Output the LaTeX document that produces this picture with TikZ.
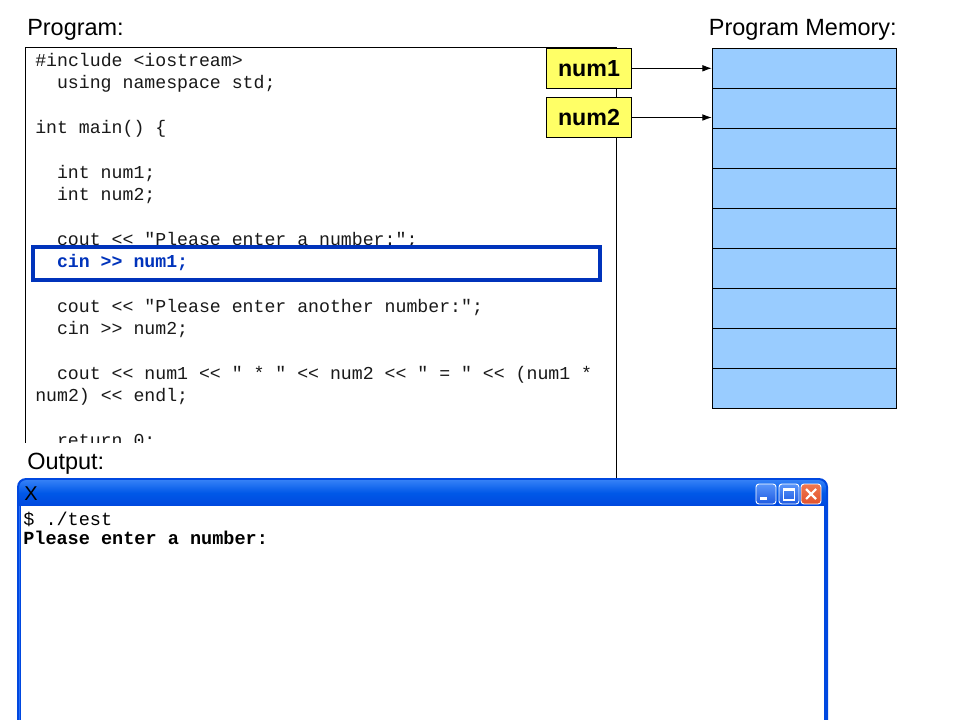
\documentclass[tikz,border=0pt]{standalone}
\usepackage{fontspec}
\setmainfont{Liberation Sans}
\setmonofont{Liberation Mono}
\usetikzlibrary{arrows.meta}
\definecolor{hlblue}{RGB}{0,51,187}
\definecolor{memblue}{RGB}{153,204,255}
\definecolor{numyellow}{RGB}{255,255,102}
\definecolor{xpborder}{RGB}{0,72,224}
\definecolor{xpinner}{RGB}{40,110,245}
\definecolor{xptop}{RGB}{52,128,246}
\definecolor{xpmid}{RGB}{0,88,232}
\definecolor{xpbot}{RGB}{0,72,222}
\definecolor{btntop}{RGB}{90,150,250}
\definecolor{btnbot}{RGB}{30,90,225}
\definecolor{closetop}{RGB}{240,120,80}
\definecolor{xpclose}{RGB}{226,82,44}
\definecolor{codeink}{RGB}{25,25,25}
\tikzset{
  code/.style={font=\ttfamily\fontsize{13.65}{16}\selectfont, text=codeink, inner sep=0pt, anchor=base west},
  hlcode/.style={code, font=\ttfamily\bfseries\fontsize{13.65}{16}\selectfont, text=hlblue},
  term/.style={font=\ttfamily\fontsize{13.9}{16}\selectfont, inner sep=0pt, anchor=base west},
  termb/.style={term, font=\ttfamily\bfseries\fontsize{13.9}{16}\selectfont},
  lbl/.style={font=\fontsize{17.6}{20}\selectfont, inner sep=0pt},
  numbox/.style={draw=black, line width=0.6pt, fill=numyellow, minimum width=63.75pt, minimum height=30pt, inner sep=0pt, font=\bfseries\fontsize{17.4}{20}\selectfont},
  memcell/.style={draw=black, line width=0.9pt, fill=memblue, minimum width=138.3pt, minimum height=30pt, inner sep=0pt},
  ptr/.style={line width=0.6pt, -{Latex[length=7pt,width=5pt]}},
  xpbtn/.style={draw=white, line width=0.7pt, rounded corners=2.2pt}
}
\begin{document}
\begin{tikzpicture}[x=0.75pt,y=-0.75pt]
\useasboundingbox (0,0) rectangle (960,720);
\fill[white] (0,0) rectangle (960,720);
\frenchspacing
% program box
\node[draw=black, line width=0.75pt, anchor=north west, minimum width=443.25pt, minimum height=323.25pt, inner sep=0pt] (prog) at (25,47) {};
% code lines
\node[code] (l1) at (35,66.5) {\#include <iostream>};
\node[code] (l2) at (56.8,88.85) {using namespace std;};
\node[code] (l4) at (35,133.55) {int main() \{};
\node[code] (l6) at (56.8,178.25) {int num1;};
\node[code] (l7) at (56.8,200.6) {int num2;};
\node[code] (l9) at (56.8,245.3) {cout << "Please enter a number:";};
\node[hlcode] (l10) at (56.8,267.65) {cin >> num1;};
\node[code] (l12) at (56.8,312.35) {cout << "Please enter another number:";};
\node[code] (l13) at (56.8,334.7) {cin >> num2;};
\node[code] (l15) at (56.8,379.4) {cout << num1 << " * " << num2 << " = " << (num1 *};
\node[code] (l16) at (35,401.75) {num2) << endl;};
\node[code] (l18) at (56.8,446.45) {return 0;};
% highlight box
\node[draw=hlblue, line width=3pt, minimum width=425.25pt, minimum height=24.75pt, inner sep=0pt] (hl) at (316.5,263.5) {};
% white cover behind Output label
\fill[white] (18,443) rectangle (612,478);
% labels
\node[lbl, anchor=base west] (plabel) at (27,36) {Program:};
\node[lbl, anchor=base east] (mlabel) at (897,36) {Program Memory:};
\node[lbl, anchor=base west] (olabel) at (27,469) {Output:};
% memory cells
\foreach \i in {0,...,8} {
  \node[memcell] (m\i) at (804.5,{68.3+40*\i}) {};
}
% variable boxes
\node[numbox] (n1) at (589,68.3) {num1};
\node[numbox] (n2) at (589,117.5) {num2};
\draw[ptr] (n1.east) -- (n1.east -| m0.west);
\draw[ptr] (n2.east) -- (n2.east -| m1.west);
% output window
\fill[xpborder] (17,720) -- (17,487) arc[start angle=180, end angle=270, radius=9] -- (819,478) arc[start angle=270, end angle=360, radius=9] -- (828,720) -- cycle;
\shade[top color=xptop, bottom color=xpbot, middle color=xpmid]
  (19,506) -- (19,487.5) arc[start angle=180, end angle=270, radius=7.5] -- (818.5,480) arc[start angle=270, end angle=360, radius=7.5] -- (826,506) -- cycle;
\fill[white] (21,506) rectangle (824,720);
\draw[xpinner, line width=0.7pt] (19,506) -- (19,720);
% X icon
\node[font=\fontsize{15}{15}\selectfont, text=black, inner sep=0pt] (xicon) at (31,493.5) {X};
% buttons
\shade[top color=btntop, bottom color=btnbot, rounded corners=2.2pt] (756,484) rectangle (776,504);
\draw[xpbtn] (756,484) rectangle (776,504);
\fill[white] (760,496.5) rectangle (767,500);
\shade[top color=btntop, bottom color=btnbot, rounded corners=2.2pt] (779,484) rectangle (799,504);
\draw[xpbtn] (779,484) rectangle (799,504);
\draw[white, line width=0.8pt] (783.5,489) rectangle (794.5,500);
\fill[white] (783.5,488.5) rectangle (794.5,491);
\shade[top color=closetop, bottom color=xpclose, rounded corners=2.2pt] (801,484) rectangle (821,504);
\draw[xpbtn] (801,484) rectangle (821,504);
\draw[white, line width=1.6pt] (806,489) -- (816,499) (816,489) -- (806,499);
% terminal text
\node[term] (t1) at (23,525) {\$ ./test};
\node[termb] (t2) at (23,544) {Please enter a number:};
\end{tikzpicture}
\end{document}
